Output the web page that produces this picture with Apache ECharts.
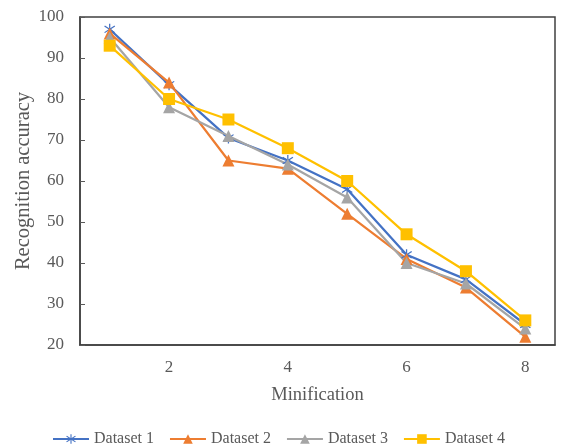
<!DOCTYPE html>
<html lang="en">
<head>
    <meta charset="UTF-8">
    <title>Recognition accuracy</title>
    <script src="https://cdn.jsdelivr.net/npm/echarts@6/dist/echarts.min.js"></script>
    <style>
        html, body { margin: 0; padding: 0; background: #fff; }
    </style>
</head>
<body>
<div id="main" style="width: 586px;height:445px;"></div>
<script>
    // minification steps (only even ones get a label)
    var categories = ['1', '2', '3', '4', '5', '6', '7', '8'];
    var seriesNames = ['Dataset 1', 'Dataset 2', 'Dataset 3', 'Dataset 4'];
    var dataset1 = [97, 83.5, 70.5, 65, 58, 42, 36, 25];
    var dataset2 = [96, 84, 65, 63, 52, 41, 34, 22];
    var dataset3 = [95, 78, 71, 64, 56, 40, 35, 24];
    var dataset4 = [93, 80, 75, 68, 60, 47, 38, 26];
    var yTicks = [20, 30, 40, 50, 60, 70, 80, 90, 100];

    var colors = ['#4472C4', '#ED7D31', '#A5A5A5', '#FFC000'];
    var font = '"Liberation Serif", "Times New Roman", serif';
    // asterisk marker built from three thin bars
    var asterisk = 'path://M9,0 L9,20 L11,20 L11,0 Z M1.4,4.8 L17.4,16.8 L18.6,15.2 L2.6,3.2 Z M2.6,16.8 L18.6,4.8 L17.4,3.2 L1.4,15.2 Z';

    function line(name, data, color, symbol, size) {
        return {
            name: name,
            type: 'line',
            data: data,
            symbol: symbol,
            symbolSize: size,
            lineStyle: { color: color, width: 2.25 },
            itemStyle: { color: color, borderWidth: 0 },
            emphasis: { disabled: true }
        };
    }

    var myChart = echarts.init(document.getElementById('main'));
    var option = {
        animation: false,
        color: colors,
        textStyle: { fontFamily: font },
        grid: {
            left: 80, right: 31, top: 17, bottom: 100,
            show: true, borderColor: '#404040', borderWidth: 1.5
        },
        legend: {
            data: seriesNames,
            left: 47,
            top: 426,
            itemWidth: 36,
            itemHeight: 12,
            itemGap: 15,
            textStyle: { fontFamily: font, fontSize: 16, color: '#595959' }
        },
        xAxis: {
            type: 'category',
            data: categories,
            boundaryGap: true,
            name: 'Minification',
            nameLocation: 'middle',
            nameGap: 41,
            nameMoveOverlap: false,
            nameTextStyle: { fontFamily: font, fontSize: 18.5, color: '#595959' },
            axisLine: { lineStyle: { color: '#404040', width: 1.5 } },
            axisTick: {
                inside: true, length: 5,
                interval: function (i) { return i % 2 === 0; },
                lineStyle: { color: '#595959' }
            },
            axisLabel: {
                interval: function (i) { return i % 2 === 1; },
                fontFamily: font, fontSize: 17, color: '#595959', margin: 14
            },
            splitLine: { show: false }
        },
        yAxis: {
            type: 'value',
            min: yTicks[0],
            max: yTicks[yTicks.length - 1],
            interval: 10,
            name: 'Recognition accuracy',
            nameLocation: 'middle',
            nameGap: 46,
            nameMoveOverlap: false,
            nameTextStyle: { fontFamily: font, fontSize: 20.5, color: '#595959' },
            axisLine: { show: true, lineStyle: { color: '#404040', width: 1.5 } },
            axisTick: { show: true, inside: true, length: 5, lineStyle: { color: '#595959' } },
            axisLabel: { fontFamily: font, fontSize: 17, color: '#595959', margin: 16 },
            splitLine: { show: false }
        },
        series: [
            line(seriesNames[0], dataset1, colors[0], asterisk, 11),
            line(seriesNames[1], dataset2, colors[1], 'triangle', 12),
            line(seriesNames[2], dataset3, colors[2], 'triangle', 12),
            line(seriesNames[3], dataset4, colors[3], 'rect', 12)
        ]
    };
    myChart.setOption(option);
</script>
</body>
</html>
